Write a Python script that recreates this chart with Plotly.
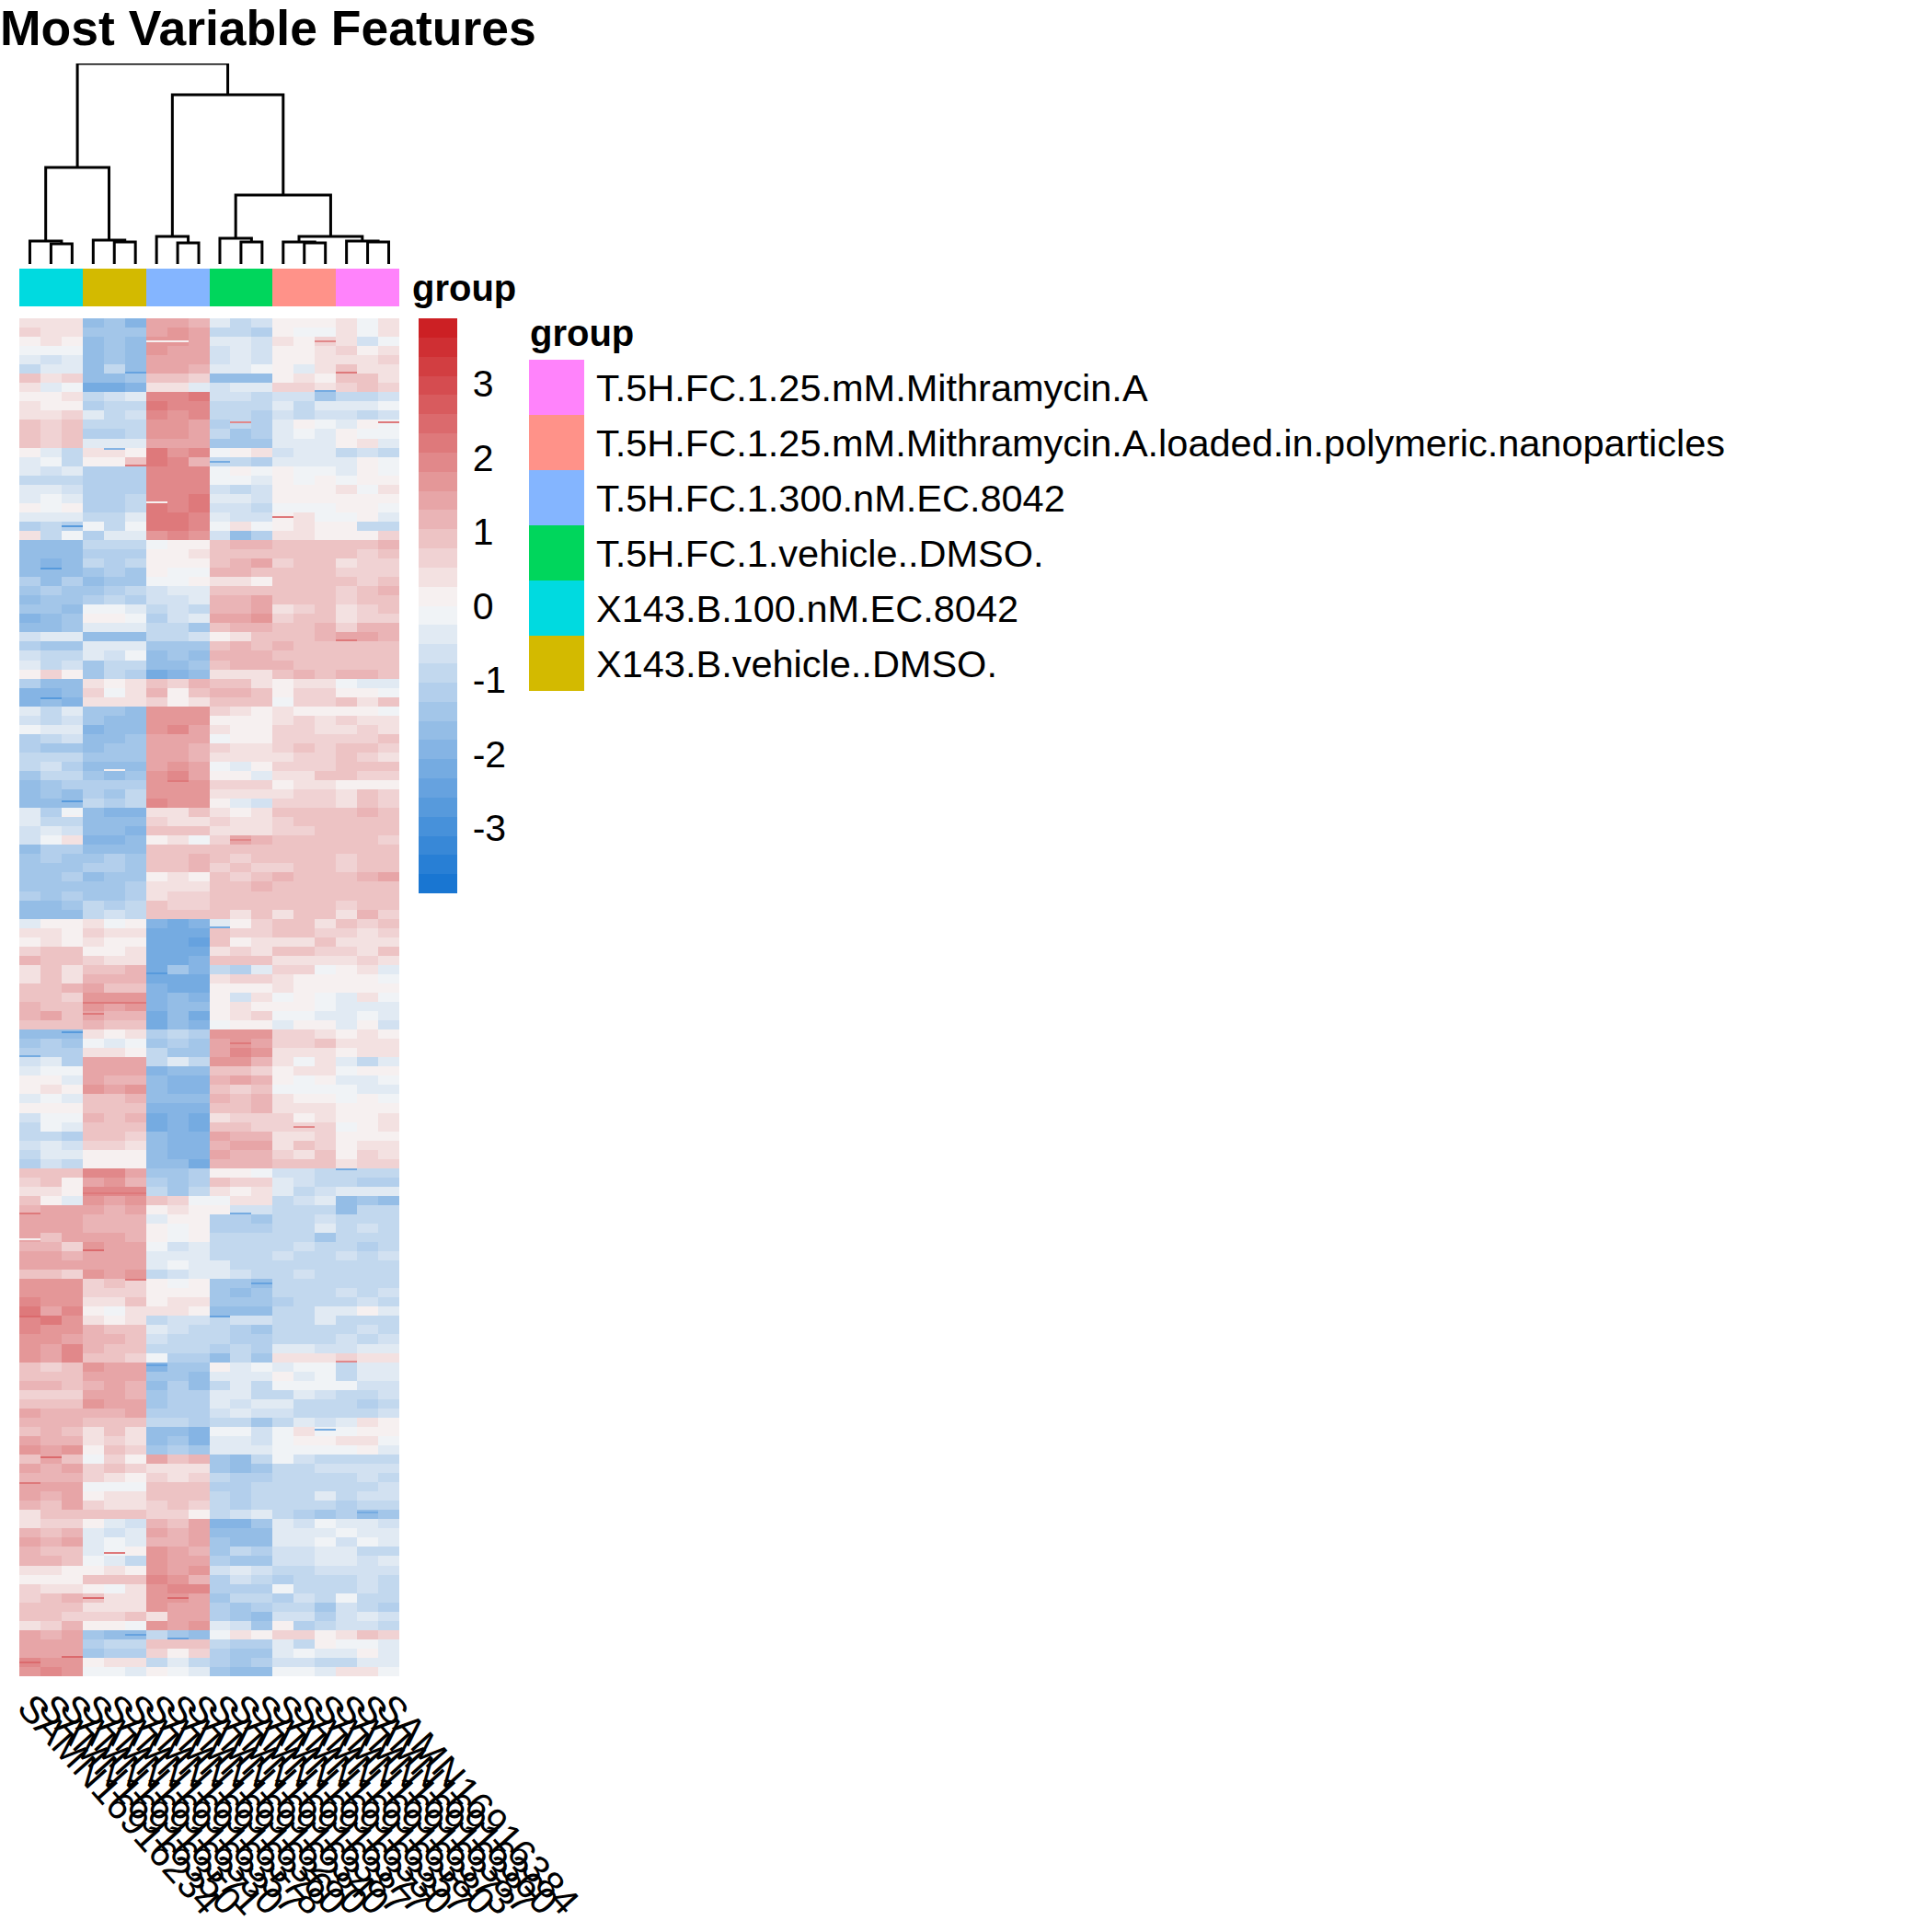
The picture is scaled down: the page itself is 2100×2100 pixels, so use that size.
import plotly.graph_objects as go
import numpy as np

FONT = "Liberation Sans"
PAGE = 2100

sample_ids = ["SAMN16916234", "SAMN16916350", "SAMN16916371", "SAMN16916330", "SAMN16916357", "SAMN16916378",
              "SAMN16916360", "SAMN16916280", "SAMN16916340", "SAMN16916387", "SAMN16916377", "SAMN16916330",
              "SAMN16916357", "SAMN16916380", "SAMN16916373", "SAMN16916387", "SAMN16916360", "SAMN16916384"]

group_names = ["T.5H.FC.1.25.mM.Mithramycin.A",
               "T.5H.FC.1.25.mM.Mithramycin.A.loaded.in.polymeric.nanoparticles",
               "T.5H.FC.1.300.nM.EC.8042",
               "T.5H.FC.1.vehicle..DMSO.",
               "X143.B.100.nM.EC.8042",
               "X143.B.vehicle..DMSO."]
group_colors = ["#FF83FB", "#FF9289", "#84B5FF", "#00D65C", "#00DAE0", "#D3BA00"]
sample_group = [4, 4, 4, 5, 5, 5, 2, 2, 2, 3, 3, 3, 1, 1, 1, 0, 0, 0]

colorbar_ticks = [-3, -2, -1, 0, 1, 2, 3]
colorbar_labels = ["-3", "-2", "-1", "0", "1", "2", "3"]
z_limit = 3.88

# dendrogram heights: the two merges inside each triple of samples, then the merges above them
triple_low = [22, 24, 23, 24, 23, 24]
triple_high = [25, 26, 30, 28, 24, 25]
height_g1_g2 = 105
height_g5_g6 = 30
height_g4_g56 = 75
height_g3_rest = 184
height_root = 218

# heatmap rows, top to bottom, 18 samples each
z_rows = [
    [.5, .4, .4, -1.6, -1.3, -1.9, 1.5, 1.5, 1.2, -.5, -.9, -.7, .1, .2, 0, .3, -.1, .4],
    [.6, .3, .4, -1.5, -1.3, -1.3, 1.3, 1.7, 1.5, -.9, -1, -1.1, .1, -.2, -.1, .5, -.2, .3],
    [0, .4, .2, -1.7, -1.4, -1.7, 1.7, 1.6, 1.5, -.5, -.3, -.6, .3, .1, .7, .5, -.6, -.2],
    [-.1, -.1, -.1, -1.7, -1.4, -1.7, 1.6, 1.5, 1.4, -.6, -.5, -.7, .2, .2, .3, .7, .2, .3],
    [-.5, -.7, -.4, -1.7, -1.4, -1.7, 1.5, 1.5, 1.4, -.6, -.4, -.6, .2, .1, .4, .4, .4, .6],
    [-.9, -.3, -.5, -1.6, -.9, -1.8, 1.4, 1.3, 1.2, -.3, -.5, -.2, .1, -.4, .4, 1, .3, .3],
    [.8, .5, .7, -1.8, -1.8, -1.5, .8, .9, .7, -1.6, -1.6, -1.8, .2, .3, 0, .8, .9, .5],
    [.3, -.4, -.2, -2.1, -2.3, -2, .5, .5, -.3, -.6, -.5, -.5, .6, .6, .3, .7, .8, .7],
    [.1, 0, .3, -1, -.6, -.4, 2, 1.9, 2.1, -.6, -.7, -.8, -.6, -.6, -1.4, -.8, -1, -.7],
    [.4, .1, .2, -1.2, -1, -.9, 2.1, 1.9, 2, -.9, -.9, -1, -.5, -.8, -.5, -.3, -.5, -.2],
    [.5, .5, .7, -.4, -.8, -.7, 1.9, 1.8, 1.9, -1, -.9, -1.1, -.6, -.9, -.7, -.6, -.9, -.7],
    [.8, .7, .8, -.8, -1, -.9, 1.7, 1.7, 1.5, -1.2, -1, -1.2, -.3, 0, -.1, -.5, .1, -.2],
    [.8, .6, .8, -1.1, -1.2, -1, 1.6, 1.7, 1.4, -1, -1.3, -1.2, -.4, -.2, -.3, 0, -.1, -.2],
    [.8, .7, .9, -.5, -.3, -.5, 1.4, 1.5, 1.5, -1.3, -1.5, -1.3, -.4, -.4, -.4, 0, .3, -.3],
    [0, -.5, -1, .4, .4, .2, 2.1, 1.7, 1.9, -.1, .2, .3, -.7, -.5, -.4, -.9, -.7, -.9],
    [-.4, -.2, -.8, .2, .2, .8, 2.1, 1.9, 1.2, -.8, -.9, -1.2, -.3, -.5, -.3, -.3, .1, -.2],
    [-.5, -.7, -.4, -1.2, -1.2, -1.2, 2, 2, 1.9, -.1, .1, -.1, 0, -.2, -.1, -.3, .2, -.2],
    [-.9, -.9, -.9, -1.1, -1.1, -1.1, 1.9, 2, 1.9, -.2, -.1, -.3, .2, -.1, .1, -.1, .2, 0],
    [-.4, -.4, -.7, -1.1, -1.2, -1.1, 2, 1.9, 1.9, -.7, -.8, -.6, 0, .1, 0, .4, -.1, .5],
    [-.3, -.2, -.4, -1.1, -1.1, -1, 2, 2, 2.2, -.5, -.5, -.7, 0, .2, 0, 0, .1, .2],
    [0, -.1, .1, -1.2, -1.2, -1, 2.2, 2, 2.1, -.6, -.7, -.9, -.1, -.1, -.1, 0, .2, -.2],
    [-.3, -.5, -.4, -.8, -.9, -.4, 2.3, 2.1, 2, -.5, -.7, -.7, 0, .3, -.2, -.2, .1, -.4],
    [-1.1, -.9, -1.2, -.1, -.8, -.1, 2.2, 2.3, 2, -.1, .3, -.2, .2, .4, .2, 0, -.9, -.9],
    [.3, -.8, -.2, -1.1, -.3, -.5, 1.8, 1.9, 1.8, -.6, -1.6, -1.2, .4, .3, .1, .2, .2, .6],
    [-1.7, -1.6, -1.7, -.9, -.8, -.8, -.1, .1, .1, 1, 1.1, 1.1, .8, 1, 1, 1, .9, 1.1],
    [-1.7, -1.6, -1.6, -1.1, -1.1, -1.1, 0, .2, .3, .9, .9, 1, .8, .9, .8, .9, .7, .9],
    [-1.8, -2, -1.7, -.9, -1.1, -.8, .2, .1, .2, 1, 1.2, 1.3, .7, .9, .8, .5, .7, .6],
    [-1.7, -1.8, -1.6, -1.3, -1.2, -1.3, .1, -.1, -.2, 1.1, 1.1, 1, .9, .9, .9, .6, .7, .6],
    [-1.2, -1.6, -1.2, -1.7, -1.5, -1.5, -.1, -.2, 0, .3, .3, .1, 1, .9, .8, .9, .7, .9],
    [-1.5, -1.1, -1.3, -1.4, -1.2, -1, -.7, -.4, -.5, 1, 1, .9, 1, 1, 1, .7, 1, 1.1],
    [-1.7, -1.4, -1.3, -1.1, -1, -1.1, -.6, -.7, -.5, 1.1, 1.2, 1.3, 1, 1, 1, .7, .8, .9],
    [-1.3, -1.5, -1.6, -.2, -.1, -.4, -1, -.6, -.9, 1.2, 1.2, 1.3, .4, .6, 1, .5, .7, 1],
    [-1.9, -1.7, -1.5, 0, 0, -.2, -1.1, -.6, -.5, 1.4, 1.4, 1.6, .7, .8, 1, .5, .7, .6],
    [-1.7, -1.7, -1.4, -.5, -.4, -.3, -.9, -.9, -1.4, 1, 1.2, 1.2, 1, .9, 1.1, .7, 1.2, 1.1],
    [-.6, -.4, -.3, -1.7, -1.6, -1.8, -1, -1, -.7, .2, .5, .9, 1, 1, 1.1, 1.3, 1.3, 1.2],
    [-1.2, -1.3, -1.3, -.5, -.3, -.5, -1.4, -1.4, -1.5, 1, 1.1, 1, 1.1, 1, 1, .8, 1, .9],
    [-.7, -1, -1, -.4, -.7, -.1, -1.7, -1.5, -1.6, 1.1, 1.1, 1.2, 1, 1, 1, .8, 1, .9],
    [-.5, -.9, -.6, -1.3, -1, -.9, -1.6, -1.7, -1.5, .8, 1.2, 1.1, 1.1, 1, 1, 1, .9, 1],
    [.1, .6, .1, -1.3, -.9, -1.2, -2.1, -1.9, -1.6, .5, .5, .5, 1, 1.1, 1, 1.1, 1.1, 1],
    [-1.1, -1.8, -1.6, .5, .2, .3, .9, .6, 1.1, .9, .8, .4, .1, .4, .3, -.2, -.3, -.3],
    [-2, -1.9, -1.8, .6, -.1, .3, 1.2, .2, 1, 1.2, 1.1, .9, 0, .6, .6, 0, .1, -.2],
    [-1.9, -1.8, -2, .5, .3, .5, .7, .1, .5, .9, .8, .9, -.1, .7, .7, .9, .3, .8],
    [-.4, -.9, -.3, -1.3, -1.5, -1.8, 1.7, 1.7, 1.7, .6, .3, .2, .3, .1, 0, .1, .1, -.1],
    [-.6, -.8, -.7, -1.4, -1.6, -1.7, 1.8, 1.8, 1.6, 0, 0, .1, .4, .6, .5, .6, .3, .4],
    [-.1, -.5, -.5, -2, -1.7, -1.8, 1.6, 1.9, 1.5, .4, 0, .2, .6, .7, .5, .5, .6, .4],
    [-1.2, -1, -.7, -1.8, -1.7, -1.4, 1.5, 1.4, 1.3, -.1, .2, .1, .6, .7, .7, .7, .6, .8],
    [-1.2, -1.4, -1.3, -1.6, -1.5, -1.4, 1.3, 1.3, 1.1, .6, .5, .4, .7, .8, .7, .8, 1, .7],
    [-1, -1, -1, -1.4, -1.5, -1.5, 1.4, 1.5, 1.1, .4, .4, .3, .5, .6, .6, .8, .6, .5],
    [-1, -.6, -1.2, -1.7, -1.8, -1.6, 1.5, 1.6, 1.3, -.2, -.4, .2, .7, .6, .7, 1, .8, 1],
    [-1.3, -.9, -.8, -1.3, -1.6, -1.4, 1.7, 1.9, 1.4, 0, 0, -.5, .4, .5, .8, .8, .7, .7],
    [-1.6, -1.4, -1.1, -1.2, -1.2, -1.2, 1.8, 1.7, 1.6, .6, .7, .6, .1, .4, .4, .2, .1, .2],
    [-1.7, -1.3, -1.6, -1.2, -1.4, -1, 1.7, 1.7, 1.7, .5, .3, .5, .5, .6, .6, .3, .9, .6],
    [-1.6, -1.6, -1.6, -.9, -1.2, -1, 1.9, 1.6, 1.7, 0, -.3, -.6, .7, .6, .6, .5, .8, .6],
    [-.3, -1.2, -.1, -1.8, -1.9, -2, .4, .5, .8, .4, .1, .3, .9, .9, 1, 1, 1.2, .8],
    [-.5, -.9, -.9, -1.8, -1.7, -1.8, .6, .5, .5, .7, .3, .3, .7, .9, .9, .8, 1, .9],
    [-.7, -.5, -.7, -1.8, -1.8, -1.9, 1, .8, 1, .5, .5, .3, .7, .7, 1, .8, .8, .9],
    [-.7, -.2, .3, -2, -1.9, -1.8, .1, .3, -.2, .6, 1.5, 1.2, .8, .8, .9, .8, .9, .7],
    [-1.6, -1.1, -1.1, -1.6, -1.6, -1.6, 1, 1, 1, .8, .8, .9, .9, .8, .9, .8, .9, 1],
    [-1.5, -1.2, -1.4, -1.5, -1.2, -1.5, 1, 1, 1.1, .8, .7, .8, .9, .8, .8, .7, .9, .8],
    [-1.3, -1.4, -1.3, -1.2, -1.2, -1.5, 1, 1, 1.2, .7, .8, .7, .7, .8, .8, .7, .9, .8],
    [-1.5, -1.5, -1.1, -1.7, -1.3, -1.5, .2, .4, .1, .9, .6, .8, 1.1, 1, 1, 1, 1.1, 1.3],
    [-1.3, -1.3, -1.4, -1.4, -1.4, -1.2, .5, .5, .5, .9, 1, 1.1, 1, 1, .9, 1, .9, .9],
    [-1.1, -1.5, -1.2, -1.3, -1.4, -1.2, .5, .6, .6, .9, .9, 1, .9, .9, .9, .8, .8, .8],
    [-1.8, -1.7, -1.4, -1, -1.2, -1, .9, .7, .7, 1, 1, .9, 1, 1, 1, .6, .9, .9],
    [-1.7, -1.6, -1.7, -.8, -.7, -1, .8, .9, 1, .9, .3, .8, .5, 1, .9, .5, 1.2, .7],
    [-.5, 0, .1, .3, -.1, .2, -2, -2.1, -2, -.4, .2, .6, 1, .8, .5, .9, .6, .9],
    [.4, .5, .2, .6, .5, .4, -2.2, -2.1, -2.3, .9, .7, .7, .9, .9, .6, .6, .3, .6],
    [0, .3, 0, .5, .2, .1, -2.2, -2.2, -2.4, .9, .2, .5, .5, .5, .9, .4, .3, .5],
    [.6, 1, 1, .2, .1, .5, -2.1, -2.2, -2.2, .3, .6, .5, .9, 1, .6, .6, .4, .9],
    [1.1, .9, .9, .7, .4, .3, -2.2, -2.3, -2, .9, .9, .9, .4, .5, .4, .3, .6, .5],
    [.3, .8, .3, .9, .8, 1.2, -2.3, -1.4, -2, -.8, -1.2, -.4, .7, .6, -.1, .1, .4, -.3],
    [.4, .8, .4, 1.2, 1.1, 1.1, -2.1, -2.2, -2.3, .5, .6, .7, .4, .2, .1, 0, 0, -.1],
    [1, .9, 1.1, 1.3, 1, 1, -2, -2.1, -2.1, .1, 0, .2, .3, 0, .1, 0, 0, 0],
    [1, .8, .7, 1.7, 1.6, 1.8, -1.9, -1.8, -2, .2, -.7, .3, -.1, 0, -.1, -.3, .3, -.1],
    [1.1, .9, .8, 1.7, 1.5, 1.7, -2, -1.8, -1.8, .1, .3, .1, 0, 0, -.1, -.5, -.3, -.4],
    [1.1, 1.5, .9, 1.3, 1.2, 1.2, -2.2, -1.8, -2.1, .2, .5, .6, -.1, -.2, -.3, -.4, -.1, -.5],
    [.9, .9, 1, 1.2, 1, .9, -2.1, -1.6, -2, -.1, 0, .1, -.3, .2, .1, -.4, 0, -.6],
    [-1.8, -1.6, -1.7, .3, .2, .3, -1.1, -.9, -1.1, 1.6, 1.7, 1.7, .6, .6, .5, .2, .3, .2],
    [-1.3, -1.2, -1.5, -.1, -.3, -.2, -1.3, -1.2, -1.5, 1.4, 1.6, 1.4, .7, .7, .8, .3, .4, .4],
    [-1.2, -1.1, -1.2, .4, .4, .1, -1, -1.3, -1.5, 1.5, 1.9, 1.7, .3, .4, .3, .1, .5, .3],
    [-.6, -.5, -1.1, 1.4, 1.3, 1.5, -1, -.5, -1, 1.8, 1.6, 1.1, .3, -.2, .3, -.3, -1, -.3],
    [-.3, -.1, -.2, 1.4, 1.5, 1.4, -1.9, -1.6, -1.8, 1, 1, .7, .2, .4, .4, -.1, .1, .1],
    [0, 0, -.3, 1.3, 1.1, 1.1, -1.8, -1.9, -1.9, 1.1, 1.3, 1.1, 0, -.1, .1, -.4, -.3, -.2],
    [.1, .4, 0, 1.6, 1.4, 1.6, -1.7, -1.9, -2, .8, .7, .9, -.1, -.1, -.1, -.2, -.3, -.5],
    [-.4, -.1, -.3, 1, .9, 1.2, -1.7, -1.8, -1.8, 1.1, .9, 1.2, .5, .2, 0, -.1, .1, -.2],
    [.2, .1, .2, 1, .9, 1, -2, -2, -2, .9, 1, 1.1, .5, .5, .4, .1, .2, 0],
    [-.6, -.1, -.1, 1.1, 1, 1.1, -2.1, -1.9, -2.1, .4, .6, .6, .6, .2, .5, .2, .1, .3],
    [-.9, -.1, -.5, .9, 1, 1, -2.1, -2, -2.1, .9, .8, .6, .6, .6, .6, -.2, .1, .4],
    [-1, -.9, -1.2, .8, .9, .7, -1.7, -1.9, -1.9, 1.3, 1.1, 1.2, .4, .5, .6, 0, .2, .2],
    [-.6, -.5, -.7, .6, .6, .5, -1.7, -2, -2, 1.2, 1.3, 1.5, .4, .8, .7, 0, .5, .4],
    [-.9, -.5, -.5, .2, .1, .1, -1.8, -1.9, -2, 1.4, 1.2, 1.1, .6, .4, .8, .2, .6, .5],
    [-1.1, -.7, -.9, .1, .1, .1, -1.8, -1.8, -2.1, 1.1, 1.2, 1.2, .8, .8, .8, .5, .7, .7],
    [1, .8, .9, 1.9, 1.9, 1.3, -1.5, -1.4, -1.1, .2, .1, -.2, -.7, -.7, -.8, -.9, -1, -.9],
    [.6, .8, .2, 1.3, 1.6, 1.2, -1.2, -1.4, -1.2, 1, .7, .7, -.4, -.6, -.9, -1, -1.1, -1.1],
    [.3, .4, .2, 2, 1.9, 2, -.9, -1.3, -.9, .5, .2, .4, -.5, -.8, -.7, -.3, -.3, -.5],
    [.9, .2, -.5, 1.6, 1.5, 1.7, .9, .6, -.1, -.2, .5, .3, -1, -.7, -.5, -1.6, -1.4, -1.7],
    [1.1, 1.3, 1.5, 1.5, 1.2, 1.3, 0, .4, 0, 0, -.6, -.6, -.9, -.8, -.9, -1.8, -.9, -1],
    [1.3, 1.4, 1.4, 1.1, 1.1, 1.1, -.4, 0, .1, -1.1, -1.2, -1.3, -1, -.9, -.7, -.9, -.9, -.9],
    [1.3, 1.3, 1.4, 1.2, 1.1, 1.1, 0, -.1, 0, -1.1, -1.2, -1.2, -1, -.9, -.5, -.9, -.7, -.8],
    [1.3, 1, 1.5, 1.4, 1.3, 1.1, .1, -.2, .1, -1, -.9, -1, -1, -1, -1.3, -1, -.9, -1],
    [1.2, 1.2, .6, 1.6, 1.5, 1.4, -.2, -.7, -.3, -1, -.9, -1, -.8, -.6, -1, -.9, -1.1, -1],
    [1.3, 1.3, 1.2, 1.5, 1.4, 1.4, -.4, -.3, -.4, -1, -.9, -.9, -.7, -.8, -.8, -.7, -.9, -.7],
    [1.3, 1.3, 1.3, 1.3, 1.4, 1.5, -.5, -.2, -.5, -.4, -.9, -.8, -1, -.8, -.8, -1, -.8, -.9],
    [1, .9, .6, 1.6, 1.5, 1.7, -.9, -.7, -.4, -.5, -.7, -.9, -.9, -.6, -.8, -.9, -.9, -.8],
    [1.8, 1.7, 1.6, .7, .8, .7, 0, -.1, .2, -1.3, -1.3, -1.7, -1, -.9, -.8, -.8, -.8, -.9],
    [1.8, 1.6, 1.8, .7, .6, .6, .1, 0, .1, -1.3, -1.6, -1.5, -1, -.8, -.8, -.7, -.9, -.7],
    [1.9, 1.7, 1.8, .5, .5, .8, .2, .4, .4, -1.5, -1.4, -1.5, -1.1, -1, -.8, -.8, -.7, -.8],
    [2.1, 1.5, 1.9, .2, -.1, .5, .3, .4, .2, -1.7, -1.7, -1.8, -1, -.8, -.4, -.5, .1, -.5],
    [2, 2.1, 1.7, .4, .2, .5, -.9, -.7, -.6, -1, -.7, -.7, -.9, -.8, -.4, -.8, -1, -1],
    [2, 1.7, 1.7, 1.1, .9, .9, -.5, -.6, -1, -1, -1.1, -1.3, -.9, -.9, -.9, -.8, -.7, -.9],
    [1.6, 1.6, 1.5, 1.1, 1.1, .9, -.7, -.8, -.8, -1, -1.1, -1.1, -.9, -.8, -.8, -.7, -.9, -.7],
    [1.7, 1.5, 1.9, 1.1, .8, .9, -.8, -.9, -1, -1.1, -1, -1.1, -.5, -.5, -.7, -.7, -.5, -.5],
    [1.6, 1.4, 1.9, 1, 1, .6, -.2, -1.1, -1.2, -1.8, -1, -1.4, .3, .4, .4, .7, .4, .5],
    [.9, .7, .8, 1.6, 1.5, 1.5, -2, -1.5, -1.5, .1, -.5, -.1, -.4, -.2, -.2, -.8, -.5, -.3],
    [.9, .8, .9, 1.5, 1.4, 1.4, -1.4, -1.5, -1.6, -.5, -.3, -.4, 0, -.5, -.1, -.8, -.3, -.5],
    [1.1, 1.1, 1, 1.2, 1.3, 1.2, -1.6, -1.1, -1.7, -.8, -.5, -.9, -.1, -.1, -.2, -.2, -.6, -.7],
    [.7, .7, .6, 1.5, 1.4, 1.2, -1.4, -1.2, -1.2, -.3, -.4, -.8, -.8, -.3, -.7, -.8, -.9, -.7],
    [.8, .9, 1, 1.6, 1.3, 1.4, -1.3, -1.2, -1.1, -.5, -.6, -.5, -.5, -.9, -1, -.9, -1.1, -.8],
    [1.3, 1.2, 1.2, 1.2, 1.2, 1.4, -1.2, -1.2, -1.1, -.6, -.5, -.7, -.7, -.9, -.9, -.8, -.8, -.7],
    [1.2, 1.2, 1.1, 1, 1, .9, -1, -1, -1.2, -1, -.9, -1.4, -.8, -.5, -.6, -.3, .5, .1],
    [1, 1.1, .8, .5, .8, .5, -1.7, -1.8, -2, -.2, -.1, -.6, -.1, .3, -.1, -.2, .2, .2],
    [1.3, 1.2, 1.1, .4, .6, .5, -1.6, -1.4, -1.9, -.5, -.4, -.6, -.1, .2, 0, .3, .3, -.1],
    [1.6, 1.4, 1.7, .2, .9, .6, -1.3, -1.2, -1.4, -.5, -.5, -.5, -.2, -.2, -.2, -.1, .1, -.4],
    [.9, 1.3, .9, -.2, .7, .2, 1.3, .9, 1.1, -1.4, -1.7, -.9, -.1, -.6, -1, -1, -1, -1],
    [1.3, 1.1, 1.3, .7, .9, .6, .4, .5, .5, -1.5, -1.6, -1.5, -.9, -.9, -.6, -.6, -.7, -.7],
    [1.2, 1.1, 1.2, .6, .5, .2, .7, .3, .6, -1, -1.2, -1.1, -.8, -.9, -.8, -.8, -.7, -.9],
    [1.3, 1.3, 1.5, -.2, -.1, -.1, .8, .8, .8, -1.1, -1.2, -1, -.9, -.8, -1, -.9, -.9, -.7],
    [1.4, 1.1, 1.4, 0, .3, .3, .8, 1, 1, -1, -1.1, -.9, -.8, -.8, -.5, -.8, -.7, -.7],
    [1.1, .9, 1.3, .7, .3, .5, .6, .8, .7, -.9, -1.2, -1, -.9, -.9, -.8, -1.1, -.9, -.8],
    [.5, 1, .8, .8, .9, .9, .7, .6, .2, -1, -.6, -.5, -.8, -1.2, -1.4, -1.2, -1.6, -1.3],
    [.3, .7, .6, .2, -.4, -.6, 1.1, .9, 1.3, -2, -1.9, -1.4, -.4, -.7, -.1, -.5, -.4, -.7],
    [1.2, .9, 1.1, -.4, -.7, -.3, 1.4, 1.2, 1.5, -1.6, -1.7, -1.7, -.3, -.5, -.3, -.1, -.5, -.4],
    [1.5, 1.1, 1.3, -.5, -.1, -.3, 1.1, 1.2, 1.3, -1.3, -1.6, -1.6, -.3, -.5, -.2, -.6, -.2, -.4],
    [1.2, .9, .8, -.3, -.1, 0, 1.6, 1.3, 1.1, -1.3, -1, -1.2, -.7, -.6, -.4, -.3, -.8, -.9],
    [1.2, 1.1, .8, -.2, -.5, -.9, 1.7, 1.4, 1.5, -1.1, -1.3, -1.3, -.7, -.6, -.5, -.4, -.6, -.5],
    [.3, .5, 0, .2, .3, .1, 1.6, 1.5, 1.6, -.6, -.5, -.7, -.9, -.8, -.6, -.6, -.7, -.7],
    [.1, .2, 0, 1, 1, .9, 1.9, 1.7, 1.2, -1.2, -.7, -.8, -1.1, -.9, -.8, -.9, -.6, -1],
    [.6, .5, .5, .2, -.1, .3, 1.8, 2, 2, -1.2, -1.1, -1.2, -.1, -.9, -.9, -.8, -.7, -1],
    [.7, 1, 1.1, .8, .3, .3, 1.7, 1.7, 1.4, -1.5, -1, -.8, -1.2, -.6, -.9, -.2, -.9, -.8],
    [.9, 1, .9, .4, .3, .5, 1.6, 1.4, 1.3, -1.2, -1.3, -1.2, -.8, -.9, -1.3, -.7, -1, -1.2],
    [.8, .8, .6, .7, .6, .9, .5, 1.3, 1.4, -1.2, -1.4, -1.6, -.6, -.6, -1.2, -.6, -.4, -.6],
    [.5, .7, 1.2, .1, .1, -.1, 1.8, 1.3, 1.6, -.3, -.7, -1.3, .2, -1.2, -1, -.7, -.6, -1],
    [1.3, 1.1, 1.3, -1.3, -1.7, -1.6, -1, -1.5, -1.8, -.2, .5, .1, .6, .7, .2, .5, .8, .7],
    [1.3, 1.3, 1.5, -1.1, -.9, -.9, .8, 1, .8, -1, -1.2, -1.2, -.4, -.8, .2, -.1, -.1, -.4],
    [1.5, 1.4, 1.3, -1.4, -1.1, -1.2, .7, .1, .6, -1.2, -1.3, -1.5, -.3, -.2, -.3, -.3, .1, -.4],
    [1.9, 1.6, 1.6, .1, .3, .3, -.8, -.5, -.9, -1.2, -1.3, -1.2, -.6, -.7, -.9, -.8, -.4, -.3],
    [1.7, 1.9, 1.7, -.2, -.2, -.4, .1, -.1, -.4, -1.3, -1.6, -1.6, -.1, -.2, -.3, .3, .4, -.1],
]

# single features that stand out of their neighbours: fine row (5 per z_rows row), sample, value
streak_row = [12, 12, 12, 29, 29, 56, 56, 79, 112, 99, 70, 39, 107, 77, 135, 174, 205, 244, 250, 261, 269, 282,
              329, 354, 370, 370, 370, 376, 386, 392, 399, 437, 460, 473, 473, 473, 484, 484, 498, 504, 520, 522,
              540, 540, 564, 566, 601, 616, 630, 646, 668, 692, 692, 712, 714, 724, 727]
streak_col = [6, 7, 14, 5, 15, 17, 10, 5, 2, 6, 4, 14, 12, 9, 1, 15, 1, 4, 7, 2, 2, 10,
              9, 6, 3, 4, 5, 3, 2, 10, 0, 13, 15, 3, 4, 5, 0, 10, 0, 3, 5, 11,
              0, 9, 15, 6, 14, 1, 0, 16, 4, 3, 7, 5, 7, 2, 0]
streak_value = [.1, .1, 2, -2.4, 2.2, 2.3, 2, 2.2, -2.7, .1, -2, -2.3, 2.3, -2.2, -2.6, 2.3, -2.7, .1, 2.3, -2.6, .1, 1.9,
                -2.3, -2.6, 2.3, 2.3, 2.3, 2.2, -2.6, 2.3, -2.3, 1.9, -2.2, 2.3, 2.3, 2.3, 2.3, -2.3, .1, 2.4, 2.3, -2.5,
                2.4, -2.5, 1.9, -2.5, -2.3, 2.4, 2.2, -2.3, 2.3, 2.5, 2.5, -2.4, -2.5, 2.4, 2.4]

z = np.repeat(np.array(z_rows), 5, axis=0)
z[streak_row, streak_col] = streak_value


def ramp_colors(n=30):
    low, mid, high = (25, 118, 210), (248, 247, 247), (204, 32, 36)
    out = []
    for i in range(n):
        t = i / (n - 1) * 2
        a, b = (low, mid) if t < 1 else (mid, high)
        f = t if t < 1 else t - 1
        out.append("rgb(%d,%d,%d)" % tuple(round(a[k] + (b[k] - a[k]) * f) for k in range(3)))
    return out


def stepped(colors):
    scale = []
    for i, c in enumerate(colors):
        scale += [[i / len(colors), c], [(i + 1) / len(colors), c]]
    return scale


def dom_x(a, b):
    return [a / PAGE, b / PAGE]


def dom_y(top, bottom):
    return [1 - bottom / PAGE, 1 - top / PAGE]


fig = go.Figure()


def u_shape(x0, h0, x1, h1, top):
    fig.add_trace(go.Scatter(x=[x0, x0, x1, x1], y=[h0, top, top, h1], mode="lines",
                             line=dict(color="black", width=3), xaxis="x", yaxis="y",
                             hoverinfo="skip", showlegend=False, cliponaxis=False))
    return (x0 + x1) / 2, top


# dendrogram, built up from the leaves
groups = []
for g in range(6):
    a = g * 3
    mid_x, low = u_shape(a + 1, 0, a + 2, 0, triple_low[g])
    groups.append(u_shape(a, 0, mid_x, low, triple_high[g]))
left = u_shape(*groups[0], *groups[1], height_g1_g2)
g56 = u_shape(*groups[4], *groups[5], height_g5_g6)
g456 = u_shape(*groups[3], *g56, height_g4_g56)
right = u_shape(*groups[2], *g456, height_g3_rest)
u_shape(*left, *right, height_root)

# annotation strip
fig.add_trace(go.Heatmap(z=[sample_group], x=list(range(18)), xaxis="x2", yaxis="y2", zmin=-0.5, zmax=5.5,
                         colorscale=stepped(group_colors), showscale=False, hoverinfo="skip"))

# main heatmap
fig.add_trace(go.Heatmap(
    z=z, x=list(range(18)), y=list(range(z.shape[0])), xaxis="x3", yaxis="y3",
    zmin=-z_limit, zmax=z_limit, colorscale=stepped(ramp_colors()),
    colorbar=dict(x=455 / PAGE, xanchor="left", y=1 - 346 / PAGE, yanchor="top", len=625, lenmode="pixels",
                  thickness=42, thicknessmode="pixels", outlinewidth=0, xpad=0, ypad=0, tickmode="array",
                  tickvals=colorbar_ticks, ticktext=colorbar_labels, ticks="outside", ticklen=9, tickcolor="white",
                  tickfont=dict(family=FONT, size=41, color="black")),
))

# legend swatches
fig.add_trace(go.Heatmap(z=[[i] for i in range(6)], y=group_names, xaxis="x4", yaxis="y4", zmin=-0.5, zmax=5.5,
                         colorscale=stepped(group_colors), showscale=False, hoverinfo="skip"))

hidden = dict(visible=False, showgrid=False, zeroline=False)
fig.update_layout(
    width=PAGE, height=PAGE, margin=dict(l=0, r=0, t=0, b=0, autoexpand=False), paper_bgcolor="white",
    plot_bgcolor="white", font=dict(family=FONT, color="black"), showlegend=False,
    title=dict(text="<b>Most Variable Features</b>", x=0, xanchor="left", y=1 - 30 / PAGE, yanchor="middle",
               font=dict(family=FONT, size=53.5, color="black")),
    xaxis=dict(domain=dom_x(21, 434), range=[-0.5, 17.5], **hidden),
    yaxis=dict(domain=dom_y(69, 287), range=[0, 218], **hidden),
    xaxis2=dict(domain=dom_x(21, 434), range=[-0.5, 17.5], anchor="y2", **hidden),
    yaxis2=dict(domain=dom_y(292, 333), anchor="x2", **hidden),
    xaxis3=dict(domain=dom_x(21, 434), range=[-0.5, 17.5], anchor="y3", showgrid=False, zeroline=False,
                tickmode="array", tickvals=list(range(18)), ticktext=sample_ids, tickangle=48, ticks="",
                ticklabelstandoff=0, tickfont=dict(family=FONT, size=41.5, color="black")),
    yaxis3=dict(domain=dom_y(346, 1822), range=[z.shape[0] - 0.5, -0.5], anchor="x3", **hidden),
    xaxis4=dict(domain=dom_x(575, 635), anchor="y4", **hidden),
    yaxis4=dict(domain=dom_y(391, 751), autorange="reversed", anchor="x4", side="right", type="category",
                showgrid=False, zeroline=False, showline=False, ticks="", ticklabelstandoff=12,
                tickfont=dict(family=FONT, size=41.5, color="black")),
    annotations=[
        dict(text="<b>group</b>", x=445.5 / PAGE, y=1 - 312.5 / PAGE, xref="paper", yref="paper", xanchor="left",
             yanchor="middle", showarrow=False, font=dict(family=FONT, size=40, color="black")),
        dict(text="<b>group</b>", x=574 / PAGE, y=1 - 361.5 / PAGE, xref="paper", yref="paper", xanchor="left",
             yanchor="middle", showarrow=False, font=dict(family=FONT, size=40, color="black")),
    ],
)

fig.write_html("out.html", post_script="document.body.style.margin='0';", config={"displayModeBar": False})
